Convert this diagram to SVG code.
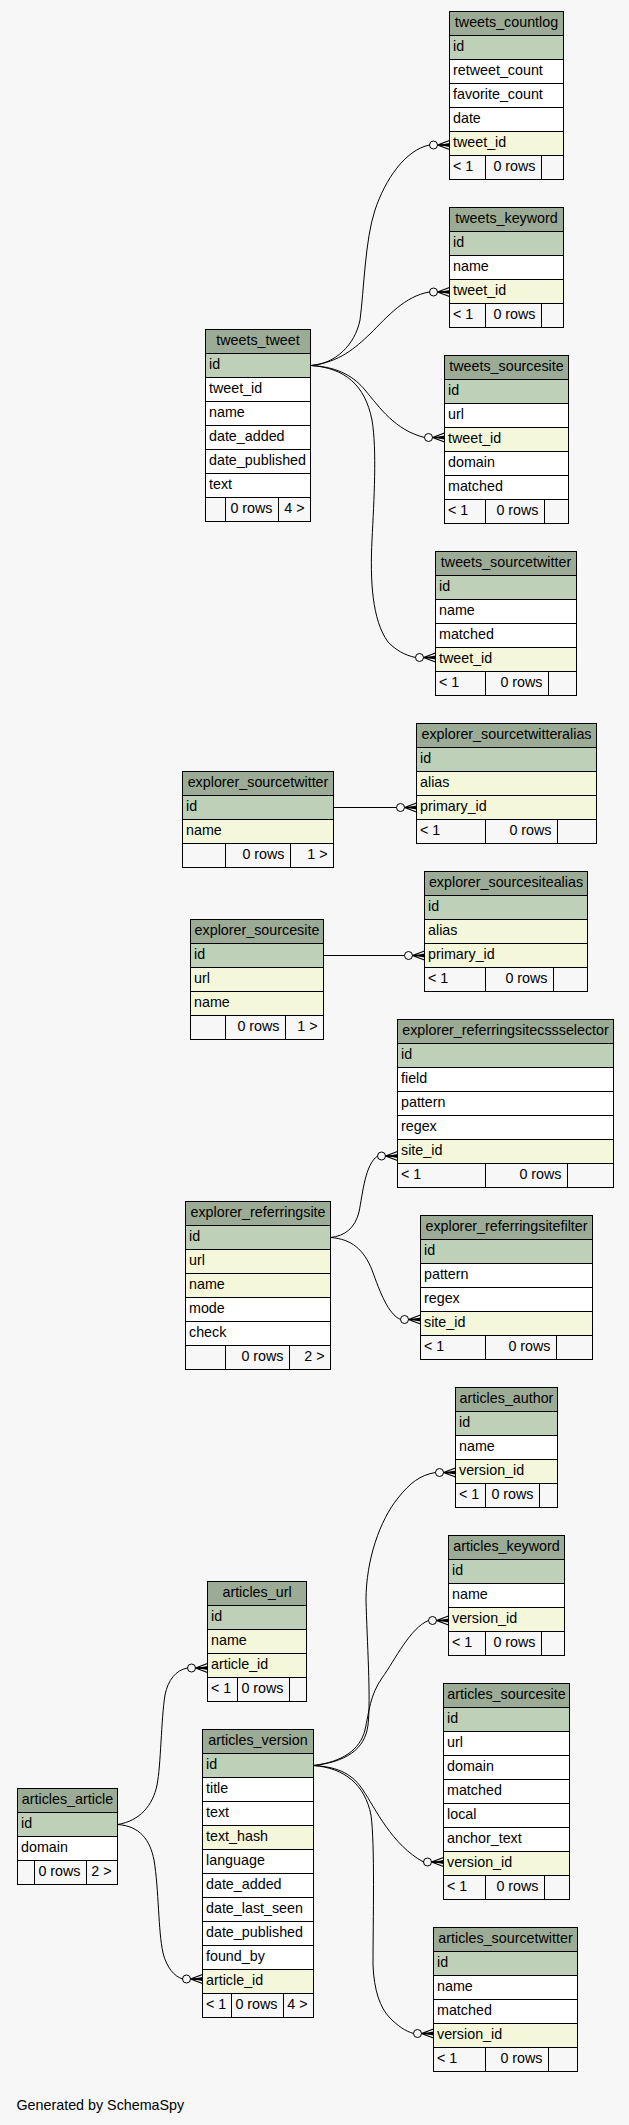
<svg xmlns="http://www.w3.org/2000/svg" xmlns:xlink="http://www.w3.org/1999/xlink" width="629" height="2125" viewBox="0 0 629 2125">
<style>
rect{stroke:#000;stroke-width:1}
.h{fill:#9bab96}.pk{fill:#bed1b8}.fk{fill:#f4f7da}.w{fill:#fff}.f{fill:#f7f7f7}
text{font-family:"Liberation Sans",Arial,Helvetica,sans-serif;font-size:14.3px;fill:#000}
.c{text-anchor:middle}.r{text-anchor:end}
.e{fill:none;stroke:#000;stroke-width:1}
</style>
<defs>
<g id="crow"><circle cx="0" cy="0" r="4" fill="none" stroke="#000" stroke-width="1"/><path d="M4,0 L16,-4.5 M4,0 L16,0 M4,0 L16,4.5" fill="none" stroke="#000" stroke-width="1.3"/><path d="M5,0 L16,-2 L16,2 Z" fill="#000"/></g>
</defs>
<rect x="0" y="0" width="629" height="2125" fill="#f7f7f7" style="stroke:none"/>

<g id="connectors">
<path class="e" d="M311,365.5 C335,364 355,345 360,320 C364,290 365,240 375,210 C385,180 405,150 429.5,145"/>
<path class="e" d="M311,365.5 C340,362 355,348 370,334 C388,316 405,296 429.5,292"/>
<path class="e" d="M311,365.5 C340,367 355,378 365,390 C380,408 395,430 424.5,437.5"/>
<path class="e" d="M311,365.5 C345,368 365,385 372,420 C377,450 374,500 372,540 C370,580 372,620 388,642 C396,650 404,655 415.5,657.5"/>
<path class="e" d="M333.5,807.5 L396.5,807.5"/>
<path class="e" d="M323.5,955.5 L404.5,955.5"/>
<path class="e" d="M330.5,1237.5 C345,1236 355,1228 359,1212 C363,1192 365,1165 377.5,1156"/>
<path class="e" d="M330.5,1237.5 C352,1239 364,1250 372,1270 C380,1292 388,1314 400.5,1319.5"/>
<path class="e" d="M313.5,1765.5 C345,1762 365,1750 368,1725 C371,1700 367,1640 366,1600 C366,1560 380,1520 398,1498 C410,1483 420,1475 435.5,1472.5"/>
<path class="e" d="M313.5,1765.5 C342,1762 360,1750 365,1730 C369,1712 370,1695 382,1678 C395,1660 410,1628 428.5,1620.5"/>
<path class="e" d="M117.5,1824.5 C140,1821 153,1805 157,1785 C161,1765 161,1720 165,1695 C168,1680 176,1670 187.5,1668"/>
<path class="e" d="M313.5,1765.5 C340,1767 353,1775 363,1790 C375,1808 392,1845 423.5,1862"/>
<path class="e" d="M117.5,1824.5 C140,1826 150,1840 154,1860 C159,1890 158,1930 163,1953 C167,1968 174,1976 182.5,1979"/>
<path class="e" d="M313.5,1765.5 C345,1768 365,1785 371,1815 C375,1845 373,1920 373,1965 C374,1990 380,2008 390,2018 C398,2026 405,2031 413.5,2033.5"/>
<use xlink:href="#crow" x="433.5" y="145"/>
<use xlink:href="#crow" x="433.5" y="292"/>
<use xlink:href="#crow" x="428.5" y="437.5"/>
<use xlink:href="#crow" x="419.5" y="657.5"/>
<use xlink:href="#crow" x="400.5" y="807.5"/>
<use xlink:href="#crow" x="408.5" y="955.5"/>
<use xlink:href="#crow" x="381.5" y="1156"/>
<use xlink:href="#crow" x="404.5" y="1319.5"/>
<use xlink:href="#crow" x="439.5" y="1472.5"/>
<use xlink:href="#crow" x="432.5" y="1620.5"/>
<use xlink:href="#crow" x="191.5" y="1668"/>
<use xlink:href="#crow" x="427.5" y="1862"/>
<use xlink:href="#crow" x="186.5" y="1979"/>
<use xlink:href="#crow" x="417.5" y="2033.5"/>
</g>

<g id="tweets_countlog">
<rect class="h" x="449.5" y="11.5" width="114" height="24"/><text class="c" x="506.5" y="26.5">tweets_countlog</text>
<rect class="pk" x="449.5" y="35.5" width="114" height="24"/><text x="453" y="50.5">id</text>
<rect class="w" x="449.5" y="59.5" width="114" height="24"/><text x="453" y="74.5">retweet_count</text>
<rect class="w" x="449.5" y="83.5" width="114" height="24"/><text x="453" y="98.5">favorite_count</text>
<rect class="w" x="449.5" y="107.5" width="114" height="24"/><text x="453" y="122.5">date</text>
<rect class="fk" x="449.5" y="131.5" width="114" height="24"/><text x="453" y="146.5">tweet_id</text>
<rect class="f" x="449.5" y="155.5" width="36" height="24"/><rect class="f" x="485.5" y="155.5" width="56" height="24"/><rect class="f" x="541.5" y="155.5" width="22" height="24"/>
<text x="453" y="170.5">&lt; 1</text><text class="r" x="535.5" y="170.5">0 rows</text>
</g>

<g id="tweets_keyword">
<rect class="h" x="449.5" y="207.5" width="114" height="24"/><text class="c" x="506.5" y="222.5">tweets_keyword</text>
<rect class="pk" x="449.5" y="231.5" width="114" height="24"/><text x="453" y="246.5">id</text>
<rect class="w" x="449.5" y="255.5" width="114" height="24"/><text x="453" y="270.5">name</text>
<rect class="fk" x="449.5" y="279.5" width="114" height="24"/><text x="453" y="294.5">tweet_id</text>
<rect class="f" x="449.5" y="303.5" width="36" height="24"/><rect class="f" x="485.5" y="303.5" width="56" height="24"/><rect class="f" x="541.5" y="303.5" width="22" height="24"/>
<text x="453" y="318.5">&lt; 1</text><text class="r" x="535.5" y="318.5">0 rows</text>
</g>

<g id="tweets_tweet">
<rect class="h" x="205.5" y="329.5" width="105" height="24"/><text class="c" x="258" y="344.5">tweets_tweet</text>
<rect class="pk" x="205.5" y="353.5" width="105" height="24"/><text x="209" y="368.5">id</text>
<rect class="w" x="205.5" y="377.5" width="105" height="24"/><text x="209" y="392.5">tweet_id</text>
<rect class="w" x="205.5" y="401.5" width="105" height="24"/><text x="209" y="416.5">name</text>
<rect class="w" x="205.5" y="425.5" width="105" height="24"/><text x="209" y="440.5">date_added</text>
<rect class="w" x="205.5" y="449.5" width="105" height="24"/><text x="209" y="464.5">date_published</text>
<rect class="w" x="205.5" y="473.5" width="105" height="24"/><text x="209" y="488.5">text</text>
<rect class="f" x="205.5" y="497.5" width="20" height="24"/><rect class="f" x="225.5" y="497.5" width="53" height="24"/><rect class="f" x="278.5" y="497.5" width="32" height="24"/>
<text class="r" x="272.5" y="512.5">0 rows</text><text class="r" x="304.5" y="512.5">4 &gt;</text>
</g>

<g id="tweets_sourcesite">
<rect class="h" x="444.5" y="355.5" width="124" height="24"/><text class="c" x="506.5" y="370.5">tweets_sourcesite</text>
<rect class="pk" x="444.5" y="379.5" width="124" height="24"/><text x="448" y="394.5">id</text>
<rect class="w" x="444.5" y="403.5" width="124" height="24"/><text x="448" y="418.5">url</text>
<rect class="fk" x="444.5" y="427.5" width="124" height="24"/><text x="448" y="442.5">tweet_id</text>
<rect class="w" x="444.5" y="451.5" width="124" height="24"/><text x="448" y="466.5">domain</text>
<rect class="w" x="444.5" y="475.5" width="124" height="24"/><text x="448" y="490.5">matched</text>
<rect class="f" x="444.5" y="499.5" width="41" height="24"/><rect class="f" x="485.5" y="499.5" width="59" height="24"/><rect class="f" x="544.5" y="499.5" width="24" height="24"/>
<text x="448" y="514.5">&lt; 1</text><text class="r" x="538.5" y="514.5">0 rows</text>
</g>

<g id="tweets_sourcetwitter">
<rect class="h" x="435.5" y="551.5" width="141" height="24"/><text class="c" x="506" y="566.5">tweets_sourcetwitter</text>
<rect class="pk" x="435.5" y="575.5" width="141" height="24"/><text x="439" y="590.5">id</text>
<rect class="w" x="435.5" y="599.5" width="141" height="24"/><text x="439" y="614.5">name</text>
<rect class="w" x="435.5" y="623.5" width="141" height="24"/><text x="439" y="638.5">matched</text>
<rect class="fk" x="435.5" y="647.5" width="141" height="24"/><text x="439" y="662.5">tweet_id</text>
<rect class="f" x="435.5" y="671.5" width="50" height="24"/><rect class="f" x="485.5" y="671.5" width="63" height="24"/><rect class="f" x="548.5" y="671.5" width="28" height="24"/>
<text x="439" y="686.5">&lt; 1</text><text class="r" x="542.5" y="686.5">0 rows</text>
</g>

<g id="explorer_sourcetwitteralias">
<rect class="h" x="416.5" y="723.5" width="180" height="24"/><text class="c" x="506.5" y="738.5">explorer_sourcetwitteralias</text>
<rect class="pk" x="416.5" y="747.5" width="180" height="24"/><text x="420" y="762.5">id</text>
<rect class="fk" x="416.5" y="771.5" width="180" height="24"/><text x="420" y="786.5">alias</text>
<rect class="fk" x="416.5" y="795.5" width="180" height="24"/><text x="420" y="810.5">primary_id</text>
<rect class="f" x="416.5" y="819.5" width="69" height="24"/><rect class="f" x="485.5" y="819.5" width="72" height="24"/><rect class="f" x="557.5" y="819.5" width="39" height="24"/>
<text x="420" y="834.5">&lt; 1</text><text class="r" x="551.5" y="834.5">0 rows</text>
</g>

<g id="explorer_sourcetwitter">
<rect class="h" x="182.5" y="771.5" width="151" height="24"/><text class="c" x="258" y="786.5">explorer_sourcetwitter</text>
<rect class="pk" x="182.5" y="795.5" width="151" height="24"/><text x="186" y="810.5">id</text>
<rect class="fk" x="182.5" y="819.5" width="151" height="24"/><text x="186" y="834.5">name</text>
<rect class="f" x="182.5" y="843.5" width="43" height="24"/><rect class="f" x="225.5" y="843.5" width="65" height="24"/><rect class="f" x="290.5" y="843.5" width="43" height="24"/>
<text class="r" x="284.5" y="858.5">0 rows</text><text class="r" x="327.5" y="858.5">1 &gt;</text>
</g>

<g id="explorer_sourcesitealias">
<rect class="h" x="424.5" y="871.5" width="163" height="24"/><text class="c" x="506" y="886.5">explorer_sourcesitealias</text>
<rect class="pk" x="424.5" y="895.5" width="163" height="24"/><text x="428" y="910.5">id</text>
<rect class="fk" x="424.5" y="919.5" width="163" height="24"/><text x="428" y="934.5">alias</text>
<rect class="fk" x="424.5" y="943.5" width="163" height="24"/><text x="428" y="958.5">primary_id</text>
<rect class="f" x="424.5" y="967.5" width="61" height="24"/><rect class="f" x="485.5" y="967.5" width="68" height="24"/><rect class="f" x="553.5" y="967.5" width="34" height="24"/>
<text x="428" y="982.5">&lt; 1</text><text class="r" x="547.5" y="982.5">0 rows</text>
</g>

<g id="explorer_sourcesite">
<rect class="h" x="190.5" y="919.5" width="133" height="24"/><text class="c" x="257" y="934.5">explorer_sourcesite</text>
<rect class="pk" x="190.5" y="943.5" width="133" height="24"/><text x="194" y="958.5">id</text>
<rect class="fk" x="190.5" y="967.5" width="133" height="24"/><text x="194" y="982.5">url</text>
<rect class="fk" x="190.5" y="991.5" width="133" height="24"/><text x="194" y="1006.5">name</text>
<rect class="f" x="190.5" y="1015.5" width="35" height="24"/><rect class="f" x="225.5" y="1015.5" width="60" height="24"/><rect class="f" x="285.5" y="1015.5" width="38" height="24"/>
<text class="r" x="279.5" y="1030.5">0 rows</text><text class="r" x="317.5" y="1030.5">1 &gt;</text>
</g>

<g id="explorer_referringsitecssselector">
<rect class="h" x="397.5" y="1019.5" width="216" height="24"/><text class="c" x="505.5" y="1034.5">explorer_referringsitecssselector</text>
<rect class="pk" x="397.5" y="1043.5" width="216" height="24"/><text x="401" y="1058.5">id</text>
<rect class="w" x="397.5" y="1067.5" width="216" height="24"/><text x="401" y="1082.5">field</text>
<rect class="w" x="397.5" y="1091.5" width="216" height="24"/><text x="401" y="1106.5">pattern</text>
<rect class="w" x="397.5" y="1115.5" width="216" height="24"/><text x="401" y="1130.5">regex</text>
<rect class="fk" x="397.5" y="1139.5" width="216" height="24"/><text x="401" y="1154.5">site_id</text>
<rect class="f" x="397.5" y="1163.5" width="88" height="24"/><rect class="f" x="485.5" y="1163.5" width="82" height="24"/><rect class="f" x="567.5" y="1163.5" width="46" height="24"/>
<text x="401" y="1178.5">&lt; 1</text><text class="r" x="561.5" y="1178.5">0 rows</text>
</g>

<g id="explorer_referringsite">
<rect class="h" x="185.5" y="1201.5" width="145" height="24"/><text class="c" x="258" y="1216.5">explorer_referringsite</text>
<rect class="pk" x="185.5" y="1225.5" width="145" height="24"/><text x="189" y="1240.5">id</text>
<rect class="fk" x="185.5" y="1249.5" width="145" height="24"/><text x="189" y="1264.5">url</text>
<rect class="fk" x="185.5" y="1273.5" width="145" height="24"/><text x="189" y="1288.5">name</text>
<rect class="w" x="185.5" y="1297.5" width="145" height="24"/><text x="189" y="1312.5">mode</text>
<rect class="w" x="185.5" y="1321.5" width="145" height="24"/><text x="189" y="1336.5">check</text>
<rect class="f" x="185.5" y="1345.5" width="40" height="24"/><rect class="f" x="225.5" y="1345.5" width="64" height="24"/><rect class="f" x="289.5" y="1345.5" width="41" height="24"/>
<text class="r" x="283.5" y="1360.5">0 rows</text><text class="r" x="324.5" y="1360.5">2 &gt;</text>
</g>

<g id="explorer_referringsitefilter">
<rect class="h" x="420.5" y="1215.5" width="172" height="24"/><text class="c" x="506.5" y="1230.5">explorer_referringsitefilter</text>
<rect class="pk" x="420.5" y="1239.5" width="172" height="24"/><text x="424" y="1254.5">id</text>
<rect class="w" x="420.5" y="1263.5" width="172" height="24"/><text x="424" y="1278.5">pattern</text>
<rect class="w" x="420.5" y="1287.5" width="172" height="24"/><text x="424" y="1302.5">regex</text>
<rect class="fk" x="420.5" y="1311.5" width="172" height="24"/><text x="424" y="1326.5">site_id</text>
<rect class="f" x="420.5" y="1335.5" width="65" height="24"/><rect class="f" x="485.5" y="1335.5" width="71" height="24"/><rect class="f" x="556.5" y="1335.5" width="36" height="24"/>
<text x="424" y="1350.5">&lt; 1</text><text class="r" x="550.5" y="1350.5">0 rows</text>
</g>

<g id="articles_author">
<rect class="h" x="455.5" y="1387.5" width="102" height="24"/><text class="c" x="506.5" y="1402.5">articles_author</text>
<rect class="pk" x="455.5" y="1411.5" width="102" height="24"/><text x="459" y="1426.5">id</text>
<rect class="w" x="455.5" y="1435.5" width="102" height="24"/><text x="459" y="1450.5">name</text>
<rect class="fk" x="455.5" y="1459.5" width="102" height="24"/><text x="459" y="1474.5">version_id</text>
<rect class="f" x="455.5" y="1483.5" width="30" height="24"/><rect class="f" x="485.5" y="1483.5" width="54" height="24"/><rect class="f" x="539.5" y="1483.5" width="18" height="24"/>
<text x="459" y="1498.5">&lt; 1</text><text class="r" x="533.5" y="1498.5">0 rows</text>
</g>

<g id="articles_keyword">
<rect class="h" x="448.5" y="1535.5" width="116" height="24"/><text class="c" x="506.5" y="1550.5">articles_keyword</text>
<rect class="pk" x="448.5" y="1559.5" width="116" height="24"/><text x="452" y="1574.5">id</text>
<rect class="w" x="448.5" y="1583.5" width="116" height="24"/><text x="452" y="1598.5">name</text>
<rect class="fk" x="448.5" y="1607.5" width="116" height="24"/><text x="452" y="1622.5">version_id</text>
<rect class="f" x="448.5" y="1631.5" width="37" height="24"/><rect class="f" x="485.5" y="1631.5" width="56" height="24"/><rect class="f" x="541.5" y="1631.5" width="23" height="24"/>
<text x="452" y="1646.5">&lt; 1</text><text class="r" x="535.5" y="1646.5">0 rows</text>
</g>

<g id="articles_url">
<rect class="h" x="207.5" y="1581.5" width="99" height="24"/><text class="c" x="257" y="1596.5">articles_url</text>
<rect class="pk" x="207.5" y="1605.5" width="99" height="24"/><text x="211" y="1620.5">id</text>
<rect class="fk" x="207.5" y="1629.5" width="99" height="24"/><text x="211" y="1644.5">name</text>
<rect class="fk" x="207.5" y="1653.5" width="99" height="24"/><text x="211" y="1668.5">article_id</text>
<rect class="f" x="207.5" y="1677.5" width="30" height="24"/><rect class="f" x="237.5" y="1677.5" width="52" height="24"/><rect class="f" x="289.5" y="1677.5" width="17" height="24"/>
<text x="211" y="1692.5">&lt; 1</text><text class="r" x="283.5" y="1692.5">0 rows</text>
</g>

<g id="articles_sourcesite">
<rect class="h" x="443.5" y="1683.5" width="126" height="24"/><text class="c" x="506.5" y="1698.5">articles_sourcesite</text>
<rect class="pk" x="443.5" y="1707.5" width="126" height="24"/><text x="447" y="1722.5">id</text>
<rect class="w" x="443.5" y="1731.5" width="126" height="24"/><text x="447" y="1746.5">url</text>
<rect class="w" x="443.5" y="1755.5" width="126" height="24"/><text x="447" y="1770.5">domain</text>
<rect class="w" x="443.5" y="1779.5" width="126" height="24"/><text x="447" y="1794.5">matched</text>
<rect class="w" x="443.5" y="1803.5" width="126" height="24"/><text x="447" y="1818.5">local</text>
<rect class="w" x="443.5" y="1827.5" width="126" height="24"/><text x="447" y="1842.5">anchor_text</text>
<rect class="fk" x="443.5" y="1851.5" width="126" height="24"/><text x="447" y="1866.5">version_id</text>
<rect class="f" x="443.5" y="1875.5" width="42" height="24"/><rect class="f" x="485.5" y="1875.5" width="59" height="24"/><rect class="f" x="544.5" y="1875.5" width="25" height="24"/>
<text x="447" y="1890.5">&lt; 1</text><text class="r" x="538.5" y="1890.5">0 rows</text>
</g>

<g id="articles_version">
<rect class="h" x="202.5" y="1729.5" width="111" height="24"/><text class="c" x="258" y="1744.5">articles_version</text>
<rect class="pk" x="202.5" y="1753.5" width="111" height="24"/><text x="206" y="1768.5">id</text>
<rect class="w" x="202.5" y="1777.5" width="111" height="24"/><text x="206" y="1792.5">title</text>
<rect class="w" x="202.5" y="1801.5" width="111" height="24"/><text x="206" y="1816.5">text</text>
<rect class="fk" x="202.5" y="1825.5" width="111" height="24"/><text x="206" y="1840.5">text_hash</text>
<rect class="w" x="202.5" y="1849.5" width="111" height="24"/><text x="206" y="1864.5">language</text>
<rect class="w" x="202.5" y="1873.5" width="111" height="24"/><text x="206" y="1888.5">date_added</text>
<rect class="w" x="202.5" y="1897.5" width="111" height="24"/><text x="206" y="1912.5">date_last_seen</text>
<rect class="w" x="202.5" y="1921.5" width="111" height="24"/><text x="206" y="1936.5">date_published</text>
<rect class="w" x="202.5" y="1945.5" width="111" height="24"/><text x="206" y="1960.5">found_by</text>
<rect class="fk" x="202.5" y="1969.5" width="111" height="24"/><text x="206" y="1984.5">article_id</text>
<rect class="f" x="202.5" y="1993.5" width="29" height="24"/><rect class="f" x="231.5" y="1993.5" width="52" height="24"/><rect class="f" x="283.5" y="1993.5" width="30" height="24"/>
<text x="206" y="2008.5">&lt; 1</text><text class="r" x="277.5" y="2008.5">0 rows</text><text class="r" x="307.5" y="2008.5">4 &gt;</text>
</g>

<g id="articles_sourcetwitter">
<rect class="h" x="433.5" y="1927.5" width="144" height="24"/><text class="c" x="505.5" y="1942.5">articles_sourcetwitter</text>
<rect class="pk" x="433.5" y="1951.5" width="144" height="24"/><text x="437" y="1966.5">id</text>
<rect class="w" x="433.5" y="1975.5" width="144" height="24"/><text x="437" y="1990.5">name</text>
<rect class="w" x="433.5" y="1999.5" width="144" height="24"/><text x="437" y="2014.5">matched</text>
<rect class="fk" x="433.5" y="2023.5" width="144" height="24"/><text x="437" y="2038.5">version_id</text>
<rect class="f" x="433.5" y="2047.5" width="52" height="24"/><rect class="f" x="485.5" y="2047.5" width="63" height="24"/><rect class="f" x="548.5" y="2047.5" width="29" height="24"/>
<text x="437" y="2062.5">&lt; 1</text><text class="r" x="542.5" y="2062.5">0 rows</text>
</g>

<g id="articles_article">
<rect class="h" x="17.5" y="1788.5" width="100" height="24"/><text class="c" x="67.5" y="1803.5">articles_article</text>
<rect class="pk" x="17.5" y="1812.5" width="100" height="24"/><text x="21" y="1827.5">id</text>
<rect class="w" x="17.5" y="1836.5" width="100" height="24"/><text x="21" y="1851.5">domain</text>
<rect class="f" x="17.5" y="1860.5" width="17" height="24"/><rect class="f" x="34.5" y="1860.5" width="52" height="24"/><rect class="f" x="86.5" y="1860.5" width="31" height="24"/>
<text class="r" x="80.5" y="1875.5">0 rows</text><text class="r" x="111.5" y="1875.5">2 &gt;</text>
</g>

<text x="16.5" y="2110">Generated by SchemaSpy</text>
</svg>
